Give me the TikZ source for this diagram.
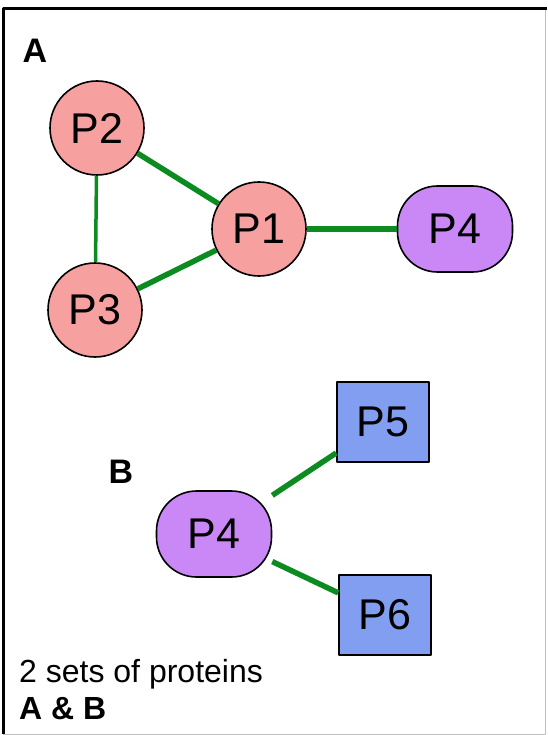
\documentclass[tikz,border=0pt]{standalone}
\usepackage{fontspec}
\setmainfont{Liberation Sans}
\definecolor{linkgreen}{RGB}{12,140,32}
\definecolor{protpink}{RGB}{246,160,160}
\definecolor{protviolet}{RGB}{202,136,246}
\definecolor{protblue}{RGB}{130,158,240}
\begin{document}
\begin{tikzpicture}[x=1pt,y=-1pt,line join=round,
    font=\fontsize{43}{46}\selectfont,
    prot/.style={draw=black,line width=1.6pt,inner sep=0pt},
    pcirc/.style={prot,circle,fill=protpink,minimum size=94pt},
    poval/.style={prot,rectangle,rounded corners=40pt,fill=protviolet,minimum width=115pt,minimum height=86pt},
    pbox/.style={prot,rectangle,fill=protblue,minimum width=92pt,minimum height=80pt},
    link/.style={draw=linkgreen,line width=5.5pt},
    tag/.style={font=\fontsize{34}{36}\selectfont\bfseries}]
  \useasboundingbox (0,0) rectangle (547,735);
  % frame
  \draw[gray!50,line width=1pt] (545,9) -- (545,734) -- (3,734);
  \draw[line width=3pt] (3,734) -- (3,9) -- (547,9);
  % set A
  \node[tag] (labA) at (35,51) {A};
  \node[pcirc] (p2) at (97,128) {P2};
  \node[pcirc] (p3) at (95,310) {P3};
  \node[pcirc] (p1) at (259,229) {P1};
  \node[poval] (p4a) at (455,229) {P4};
  \draw[link,line width=3.5pt] (p2) -- (p3);
  \draw[link] (p2) -- (p1);
  \draw[link] (p3) -- (p1);
  \draw[link,line width=6.5pt] (p1) -- (p4a);
  % set B
  \node[tag] (labB) at (121,472) {B};
  \node[poval] (p4b) at (214,534) {P4};
  \node[pbox] (p5) at (383,422) {P5};
  \node[pbox] (p6) at (385,615) {P6};
  \draw[link] (p4b) -- (p5);
  \draw[link] (p4b) -- (p6);
  % caption
  \node[anchor=base west,inner sep=0pt,font=\fontsize{32}{36}\selectfont] (note) at (19,682) {2 sets of proteins};
  \node[anchor=base west,inner sep=0pt,font=\fontsize{32}{36}\selectfont\bfseries] (noteAB) at (19,719) {A \& B};
\end{tikzpicture}
\end{document}
